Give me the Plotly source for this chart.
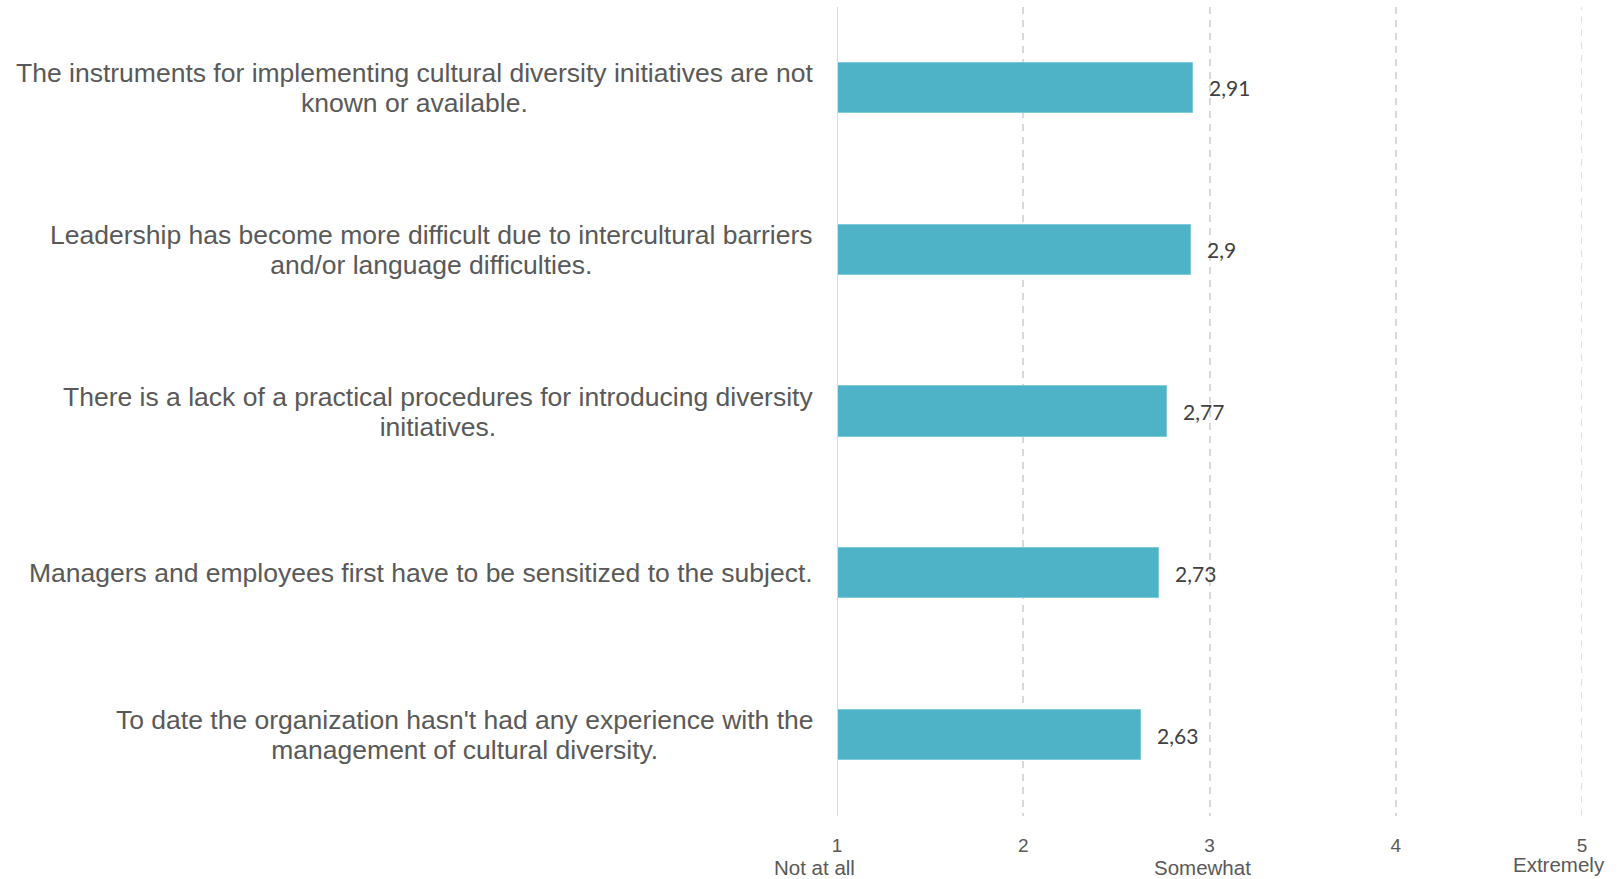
import plotly.graph_objects as go

# Survey items (top to bottom), one list entry per text line, and mean scores
categories = [
    ["The instruments for implementing cultural diversity initiatives are not", "known or available."],
    ["Leadership has become more difficult due to intercultural barriers", "and/or language difficulties."],
    ["There is a lack of a practical procedures for introducing diversity", "initiatives."],
    ["Managers and employees first have to be sensitized to the subject."],
    ["To date the organization hasn't had any experience with the", "management of cultural diversity."],
]
scores = [2.91, 2.9, 2.77, 2.73, 2.63]

scale_ticks = [1, 2, 3, 4, 5]
scale_words = {1: "Not at all", 3: "Somewhat", 5: "Extremely"}

BAR = "#4FB3C8"
TEXT = "#595959"
GRID = "#D9D9D9"
SANS = "Liberation Sans, Arial, sans-serif"
DASH = "7px,6px"

cat_keys = [" ".join(lines) for lines in categories]

fig = go.Figure()
fig.add_trace(go.Bar(
    x=[s - 1 for s in scores],
    base=1,
    y=cat_keys,
    orientation="h",
    width=0.31,
    marker=dict(color=BAR, line=dict(color="#7FCADB", width=1)),
    hoverinfo="skip",
))

annotations = []
# value labels to the right of each bar
for key, s in zip(cat_keys, scores):
    annotations.append(dict(
        x=s, y=key, xref="x", yref="y",
        text=f"{s:g}".replace(".", ","),
        showarrow=False, xanchor="left", yanchor="middle", xshift=14,
        font=dict(family="Lato, Open Sans, sans-serif", size=21, color="#404040"),
    ))
# item texts: larger glyphs on a tighter line pitch, lines centred on each other
for key, lines in zip(cat_keys, categories):
    text = "<br>".join(f'<span style="font-size:26.5px">{ln}</span>' for ln in lines)
    annotations.append(dict(
        x=0, y=key, xref="paper", yref="y",
        text=text, showarrow=False, xanchor="right", yanchor="middle",
        align="center", xshift=-22,
        font=dict(family=SANS, size=23, color=TEXT),
    ))
# verbal anchors under the scale
word_pos = {1: (-23, -51), 3: (-7, -51), 5: (-23, -48)}
for k, w in scale_words.items():
    xs, ys = word_pos[k]
    annotations.append(dict(
        x=k, y=0, xref="x", yref="paper", text=w, showarrow=False,
        xanchor="center", yanchor="middle", xshift=xs, yshift=ys,
        font=dict(family=SANS, size=20.5, color=TEXT),
    ))

fig.update_layout(
    width=1624, height=879,
    margin=dict(l=837, r=42, t=7, b=63),
    plot_bgcolor="white", paper_bgcolor="white",
    showlegend=False,
    bargap=0,
    annotations=annotations,
    xaxis=dict(
        range=[1, 5], tickvals=scale_ticks, ticktext=[str(t) for t in scale_ticks],
        showgrid=True, gridcolor=GRID, griddash=DASH, gridwidth=1.6,
        zeroline=False, showline=False, ticks="",
        tickfont=dict(family=SANS, size=19, color=TEXT),
        ticklabelstandoff=16,
    ),
    yaxis=dict(
        autorange="reversed", showticklabels=False, ticks="",
        showgrid=False, zeroline=False, showline=False,
    ),
    shapes=[
        # solid baseline at the scale minimum
        dict(type="line", xref="x", yref="paper", x0=scale_ticks[0], x1=scale_ticks[0],
             y0=0, y1=1, line=dict(color=GRID, width=2)),
        # dashed gridline at the scale maximum (edge of the range)
        dict(type="line", xref="x", yref="paper", x0=scale_ticks[-1], x1=scale_ticks[-1],
             y0=0, y1=1, line=dict(color=GRID, width=1.6, dash=DASH)),
    ],
)

fig.write_html("out.html")
